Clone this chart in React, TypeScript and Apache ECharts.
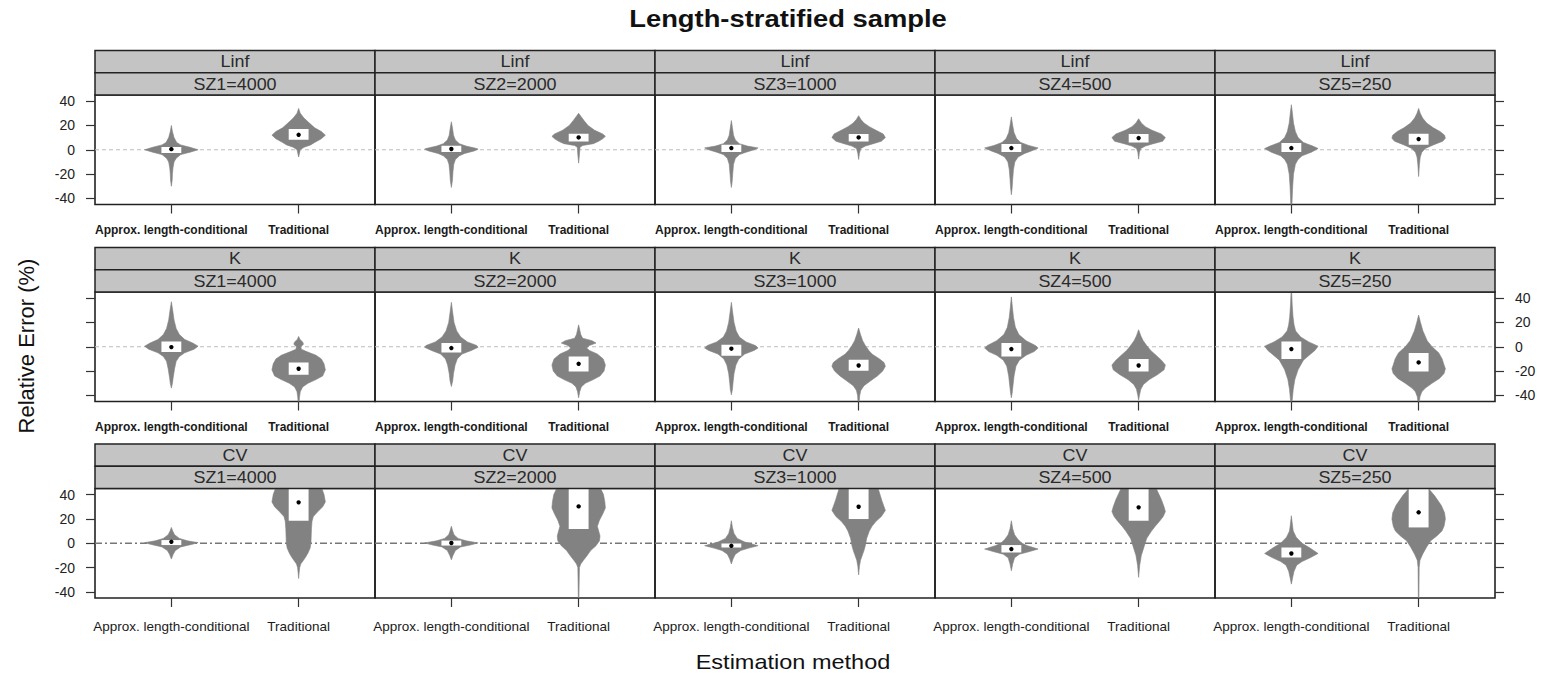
import React, { useEffect, useRef } from "react";
import * as echarts from "echarts";

const PARAMS = ["Linf", "K", "CV"];
const SIZES = ["SZ1=4000", "SZ2=2000", "SZ3=1000", "SZ4=500", "SZ5=250"];
const METHODS = ["Approx. length-conditional", "Traditional"];
const Y_TICKS = [-40, -20, 0, 20, 40];
const X_TICKS = [1, 2];
const Y_MIN = -45;
const Y_MAX = 45;
const REF_VALUE = 0;

// violin outlines: [relative error %, relative density], one list per sample size SZ1..SZ5
const LINF_APPROX = [
  [[20, 0], [15, 0.04], [10, 0.1], [6, 0.2], [4, 0.35], [2, 0.7], [0, 1], [-2, 0.7], [-4, 0.35], [-7, 0.18], [-10, 0.1], [-15, 0.06], [-20, 0.04], [-25, 0.03], [-30, 0]],
  [[23, 0], [18, 0.04], [12, 0.08], [8, 0.15], [5, 0.3], [3, 0.55], [1, 0.95], [0.5, 1], [-1, 0.85], [-3, 0.5], [-5, 0.3], [-8, 0.15], [-12, 0.09], [-18, 0.06], [-25, 0.04], [-31, 0]],
  [[24, 0], [18, 0.04], [12, 0.08], [8, 0.15], [5, 0.3], [3, 0.6], [1.5, 1], [0, 0.85], [-2, 0.55], [-4, 0.3], [-7, 0.15], [-12, 0.08], [-20, 0.05], [-26, 0.03], [-31, 0]],
  [[27, 0], [20, 0.05], [14, 0.1], [9, 0.2], [6, 0.35], [3.5, 0.65], [1.5, 1], [-1, 0.75], [-3, 0.5], [-6, 0.25], [-10, 0.13], [-16, 0.08], [-24, 0.05], [-31, 0.03], [-37, 0]],
  [[37, 0], [30, 0.04], [22, 0.08], [15, 0.15], [10, 0.25], [6, 0.45], [3, 0.8], [1, 1], [-2, 0.75], [-5, 0.4], [-8, 0.25], [-12, 0.15], [-20, 0.08], [-30, 0.05], [-40, 0.03], [-46, 0.02]],
];
const LINF_TRAD = [
  [[34, 0], [30, 0.06], [26, 0.2], [22, 0.4], [18, 0.6], [15, 0.85], [12, 1], [9, 0.85], [6, 0.6], [4, 0.45], [2, 0.2], [0, 0.06], [-3, 0.03], [-6, 0]],
  [[30, 0], [27, 0.1], [24, 0.2], [20, 0.35], [16, 0.6], [13, 0.9], [11, 1], [9, 0.9], [7, 0.75], [5, 0.55], [3.5, 0.15], [2, 0.05], [-4, 0.03], [-11, 0]],
  [[28, 0], [25, 0.08], [22, 0.2], [19, 0.4], [16, 0.65], [13, 0.92], [10, 1], [7, 0.85], [5, 0.55], [3, 0.25], [1, 0.08], [-3, 0.03], [-8, 0]],
  [[25.5, 0], [22, 0.1], [19, 0.25], [16, 0.5], [13, 0.85], [10, 1], [7, 0.9], [5, 0.55], [3, 0.25], [1, 0.08], [-2, 0.03], [-7.7, 0]],
  [[34, 0], [30, 0.06], [26, 0.15], [22, 0.3], [18, 0.55], [15, 0.8], [12, 0.97], [9.5, 1], [7, 0.9], [4, 0.55], [1, 0.25], [-2, 0.12], [-6, 0.06], [-12, 0.03], [-22, 0]],
];
const K_APPROX = [
  [[37, 0], [30, 0.05], [22, 0.1], [15, 0.18], [10, 0.3], [6, 0.5], [3, 0.8], [0.5, 1], [-2, 0.85], [-5, 0.5], [-8, 0.3], [-12, 0.18], [-18, 0.12], [-25, 0.07], [-30, 0.04], [-34, 0]],
  [[36.5, 0], [28, 0.05], [20, 0.1], [13, 0.2], [8, 0.35], [4, 0.6], [1, 0.95], [-0.5, 1], [-3, 0.75], [-6, 0.4], [-10, 0.22], [-15, 0.14], [-22, 0.08], [-28, 0.05], [-32.7, 0]],
  [[36.5, 0], [28, 0.05], [20, 0.1], [13, 0.18], [8, 0.3], [4, 0.55], [1, 0.9], [-1, 1], [-3, 0.85], [-6, 0.5], [-10, 0.28], [-15, 0.17], [-22, 0.1], [-30, 0.06], [-35, 0.04], [-39.5, 0]],
  [[41, 0], [32, 0.04], [24, 0.08], [16, 0.15], [10, 0.28], [5, 0.55], [1, 0.9], [-1, 1], [-4, 0.85], [-7, 0.55], [-11, 0.3], [-16, 0.17], [-24, 0.1], [-32, 0.06], [-38, 0.03], [-42, 0]],
  [[46, 0.01], [35, 0.03], [25, 0.06], [18, 0.1], [13, 0.16], [8, 0.35], [4, 0.65], [0.5, 1], [-3, 0.88], [-6, 0.72], [-11, 0.45], [-19, 0.25], [-27, 0.13], [-35, 0.07], [-42, 0.04], [-46, 0.02]],
];
const K_TRAD = [
  [[8.5, 0], [6, 0.05], [4, 0.15], [2, 0.18], [0, 0.08], [-2, 0.1], [-4, 0.3], [-7, 0.65], [-10, 0.85], [-14, 0.95], [-19, 1], [-24, 0.9], [-27, 0.65], [-30, 0.35], [-33, 0.15], [-37, 0.06], [-42, 0.03], [-46, 0.02]],
  [[18, 0], [14, 0.04], [10, 0.08], [7, 0.15], [5, 0.5], [3, 0.65], [1, 0.4], [-1, 0.3], [-3, 0.4], [-6, 0.7], [-10, 0.92], [-15, 1], [-20, 0.95], [-24, 0.8], [-27, 0.55], [-30, 0.25], [-33, 0.1], [-37, 0.04], [-42, 0]],
  [[15.4, 0], [10, 0.07], [5, 0.15], [1, 0.25], [-3, 0.38], [-6, 0.5], [-10, 0.78], [-13, 0.95], [-16, 1], [-20, 0.9], [-24, 0.7], [-28, 0.45], [-32, 0.2], [-36, 0.08], [-40, 0.04], [-46, 0.02]],
  [[14, 0], [9, 0.08], [5, 0.17], [1, 0.3], [-3, 0.45], [-7, 0.65], [-11, 0.85], [-15, 1], [-19, 0.95], [-23, 0.7], [-27, 0.4], [-31, 0.18], [-35, 0.08], [-40, 0.03], [-44, 0]],
  [[26, 0], [20, 0.07], [13, 0.16], [5, 0.32], [0, 0.5], [-5, 0.75], [-10, 0.88], [-15, 0.95], [-18, 1], [-22, 0.95], [-26, 0.78], [-30, 0.5], [-34, 0.25], [-37, 0.12], [-41, 0.05], [-46, 0.02]],
];
const CV_APPROX = [
  [[13, 0], [10, 0.05], [7, 0.12], [4, 0.3], [2, 0.6], [0.5, 1], [-1, 0.75], [-3, 0.35], [-6, 0.15], [-9, 0.07], [-13, 0]],
  [[14, 0], [10, 0.05], [7, 0.1], [4, 0.25], [2, 0.55], [0.3, 1], [-1.5, 0.7], [-3, 0.35], [-6, 0.15], [-10, 0.06], [-13.6, 0]],
  [[18.5, 0], [13, 0.04], [8, 0.1], [4, 0.22], [1, 0.5], [-2, 1], [-4, 0.65], [-6, 0.35], [-9, 0.15], [-13, 0.06], [-17, 0]],
  [[18.5, 0], [12, 0.05], [7, 0.12], [3, 0.25], [0, 0.4], [-2, 0.6], [-4.8, 1], [-7, 0.65], [-9, 0.3], [-12, 0.12], [-17, 0.05], [-22.6, 0]],
  [[22.6, 0], [15, 0.04], [10, 0.07], [5, 0.18], [0, 0.4], [-4, 0.7], [-8.4, 1], [-12, 0.7], [-15, 0.4], [-18, 0.2], [-23, 0.1], [-28, 0.05], [-33.6, 0]],
];
const CV_TRAD = [
  [[50, 0.75], [45, 0.87], [40, 0.95], [34, 1], [30, 0.9], [26, 0.72], [22, 0.55], [18, 0.5], [12, 0.48], [6, 0.47], [0, 0.46], [-4, 0.43], [-8, 0.35], [-11, 0.27], [-14, 0.18], [-17, 0.08], [-20, 0.04], [-24, 0.02], [-29, 0]],
  [[52, 0.5], [46, 0.8], [40, 0.93], [34, 0.98], [29, 1], [24, 0.9], [19, 0.78], [14, 0.7], [10, 0.75], [6, 0.8], [2, 0.78], [-2, 0.65], [-6, 0.45], [-10, 0.32], [-14, 0.18], [-17, 0.08], [-20, 0.03], [-32, 0.02], [-46, 0.01]],
  [[52, 0.55], [45, 0.73], [35, 0.87], [27, 1], [22, 0.85], [18, 0.65], [14, 0.5], [10, 0.4], [4, 0.3], [-2, 0.25], [-6, 0.2], [-9, 0.15], [-14, 0.07], [-19, 0.03], [-26, 0]],
  [[52, 0.5], [44, 0.68], [36, 0.85], [30, 0.95], [26, 1], [22, 0.92], [18, 0.78], [14, 0.62], [10, 0.48], [4, 0.3], [-3, 0.2], [-10, 0.1], [-18, 0.04], [-28, 0]],
  [[52, 0.2], [45, 0.37], [39, 0.6], [31, 0.85], [25, 0.97], [20, 1], [14, 0.95], [10, 0.87], [6, 0.68], [2, 0.45], [-3, 0.3], [-9, 0.15], [-14, 0.05], [-20, 0.02], [-46, 0.01]],
];

// box: [lower quartile, median, upper quartile]
const LINF_APPROX_BOX = [[-2.7, 0.5, 2.2], [-1.9, 0.6, 3.3], [-1.9, 1.4, 4.1], [-1.9, 1.4, 4.7], [-1.9, 1.4, 5.5]];
const LINF_TRAD_BOX = [[8.2, 12.3, 17], [6.8, 10.1, 13.2], [6.8, 10.1, 12.9], [6.0, 9.6, 12.9], [4.1, 8.8, 13.2]];
const K_APPROX_BOX = [[-4.4, -0.3, 4.4], [-4.7, -1.1, 3], [-7.4, -1.6, 1.6], [-8, -1.9, 3], [-10.1, -1.9, 4.4]];
const K_TRAD_BOX = [[-23, -18.1, -12.9], [-20.3, -14, -8], [-19.8, -15.4, -10.7], [-20.3, -15.4, -10.1], [-20.3, -12.9, -5.2]];
const CV_APPROX_BOX = [[-1.5, 1.2, 2.6], [-1.9, 0.2, 2.2], [-3.5, -2.1, -0.2], [-7.6, -4.8, -1.5], [-11.7, -8.4, -3.5]];
const CV_TRAD_BOX = [[18.5, 33.6, 52], [11.7, 30.3, 50], [19.9, 30, 50], [18.5, 29.5, 50], [13, 25.4, 55]];

const PROFILES = [
  [LINF_APPROX, LINF_TRAD],
  [K_APPROX, K_TRAD],
  [CV_APPROX, CV_TRAD],
];
const BOXES = [
  [LINF_APPROX_BOX, LINF_TRAD_BOX],
  [K_APPROX_BOX, K_TRAD_BOX],
  [CV_APPROX_BOX, CV_TRAD_BOX],
];

// ---- layout / style ----
const FONT = "'Liberation Sans', Arial, Helvetica, sans-serif";
const PANEL_LEFT = 95;
const PANEL_W = 280;
const PLOT_TOP = [95, 292, 488.5];
const PLOT_H = 109.5;
const STRIP_H = 22.2;
const VIOLIN_HALF = 0.21;
const BOX_HALF = 0.078;
const VIOLIN_FILL = "#828282";
const STRIP_FILL = "#c4c4c4";
const BORDER = "#222";

function clipProfile(p: number[][], lo: number, hi: number): number[][] {
  const out: number[][] = [];
  for (let i = 0; i < p.length; i++) {
    const [v, d] = p[i];
    if (i > 0) {
      const [pv, pd] = p[i - 1];
      for (const b of [hi, lo]) {
        if ((pv - b) * (v - b) < 0) {
          const t = (b - pv) / (v - pv);
          out.push([b, pd + t * (d - pd)]);
        }
      }
    }
    if (v >= lo && v <= hi) out.push([v, d]);
  }
  return out;
}

function buildOption() {
  const grids: any[] = [];
  const xAxes: any[] = [];
  const yAxes: any[] = [];
  const series: any[] = [];
  const graphics: any[] = [];

  PARAMS.forEach((param, r) => {
    SIZES.forEach((size, c) => {
      const idx = r * SIZES.length + c;
      const left = PANEL_LEFT + c * PANEL_W;
      const top = PLOT_TOP[r];
      grids.push({
        left,
        top,
        width: PANEL_W,
        height: PLOT_H,
        show: true,
        borderColor: BORDER,
        borderWidth: 1.6,
        backgroundColor: "transparent",
        containLabel: false,
      });
      const bold = r < 2;
      xAxes.push({
        gridIndex: idx,
        type: "value",
        position: "bottom",
        min: 0.4,
        max: 2.6,
        axisLine: { show: false, onZero: false },
        splitLine: { show: false },
        axisTick: {
          show: true,
          customValues: X_TICKS,
          length: 9,
          lineStyle: { color: "#333", width: 1.2 },
        },
        axisLabel: {
          show: true,
          customValues: X_TICKS,
          formatter: (v: number) => METHODS[Math.round(v) - 1] ?? "",
          margin: r === 2 ? 21 : 19,
          fontSize: bold ? 12 : 13.5,
          fontWeight: bold ? "bold" : "normal",
          color: "#1a1a1a",
          fontFamily: FONT,
        },
      });
      const isLeft = c === 0;
      const isRight = c === SIZES.length - 1;
      yAxes.push({
        gridIndex: idx,
        type: "value",
        min: Y_MIN,
        max: Y_MAX,
        position: isRight ? "right" : "left",
        axisLine: { show: false, onZero: false },
        splitLine: { show: false },
        axisTick: {
          show: isLeft || isRight,
          customValues: Y_TICKS,
          length: 9,
          lineStyle: { color: "#333", width: 1.2 },
        },
        axisLabel: {
          show: (isLeft && r !== 1) || (isRight && r === 1),
          customValues: Y_TICKS,
          margin: 20,
          fontSize: 14,
          color: "#222",
          fontFamily: FONT,
        },
      });

      const refStyle =
        r === 2
          ? { stroke: "#777", lineWidth: 1.5, lineDash: [7, 3, 2, 3] }
          : { stroke: "#bdbdbd", lineWidth: 1, lineDash: [4, 3] };

      series.push({
        type: "custom",
        xAxisIndex: idx,
        yAxisIndex: idx,
        silent: true,
        clip: true,
        data: METHODS.map((_, m) => [m + 1, ...BOXES[r][m][c]]),
        renderItem: (params: any, api: any) => {
          const m = params.dataIndex;
          const xc = api.value(0);
          const q1 = api.value(1);
          const med = api.value(2);
          const q3 = api.value(3);
          const prof = clipProfile(PROFILES[r][m][c], Y_MIN, Y_MAX);
          const right = prof.map(([v, d]) => api.coord([xc + d * VIOLIN_HALF, v]));
          const leftPts = prof
            .slice()
            .reverse()
            .map(([v, d]) => api.coord([xc - d * VIOLIN_HALF, v]));
          const tl = api.coord([xc - BOX_HALF, Math.min(q3, Y_MAX)]);
          const br = api.coord([xc + BOX_HALF, Math.max(q1, Y_MIN)]);
          const mc = api.coord([xc, med]);
          const children: any[] = [];
          if (m === 0) {
            const cs = params.coordSys;
            const yRef = api.coord([1, REF_VALUE])[1];
            children.push({
              type: "line",
              shape: { x1: cs.x, y1: yRef, x2: cs.x + cs.width, y2: yRef },
              style: { ...refStyle, fill: null },
            });
          }
          children.push(
            {
              type: "polygon",
              shape: { points: right.concat(leftPts) },
              style: { fill: VIOLIN_FILL, stroke: VIOLIN_FILL, lineWidth: 0.6 },
            },
            {
              type: "rect",
              shape: { x: tl[0], y: tl[1], width: br[0] - tl[0], height: br[1] - tl[1] },
              style: { fill: "#ffffff" },
            },
            {
              type: "circle",
              shape: { cx: mc[0], cy: mc[1], r: 2.2 },
              style: { fill: "#000000" },
            }
          );
          return { type: "group", children };
        },
      });

      // strips
      const s1 = top - 2 * STRIP_H;
      const s2 = top - STRIP_H;
      [
        [s1, param],
        [s2, size],
      ].forEach(([sy, label]) => {
        graphics.push({
          type: "rect",
          shape: { x: left, y: sy as number, width: PANEL_W, height: STRIP_H },
          style: { fill: STRIP_FILL, stroke: BORDER, lineWidth: 1.5 },
          z: 10,
        });
        graphics.push({
          type: "text",
          x: left + PANEL_W / 2,
          y: (sy as number) + STRIP_H / 2 + 0.5,
          scaleX: 1.12,
          style: {
            text: label as string,
            fontSize: 16,
            fontFamily: FONT,
            fill: "#2a2a2a",
            align: "center",
            verticalAlign: "middle",
            textAlign: "center",
            textVerticalAlign: "middle",
          },
          z: 11,
        });
      });
    });
  });

  graphics.push(
    {
      type: "text",
      x: 788,
      y: 19,
      scaleX: 1.14,
      style: {
        text: "Length-stratified sample",
        fontSize: 24,
        fontWeight: "bold",
        fontFamily: FONT,
        fill: "#111",
        align: "center",
        verticalAlign: "middle",
        textAlign: "center",
        textVerticalAlign: "middle",
      },
      z: 11,
    },
    {
      type: "text",
      x: 793,
      y: 662,
      scaleX: 1.12,
      style: {
        text: "Estimation method",
        fontSize: 21,
        fontFamily: FONT,
        fill: "#111",
        align: "center",
        verticalAlign: "middle",
        textAlign: "center",
        textVerticalAlign: "middle",
      },
      z: 11,
    },
    {
      type: "text",
      x: 26,
      y: 346,
      rotation: Math.PI / 2,
      style: {
        text: "Relative Error (%)",
        fontSize: 22,
        fontFamily: FONT,
        fill: "#111",
        align: "center",
        verticalAlign: "middle",
        textAlign: "center",
        textVerticalAlign: "middle",
      },
      z: 11,
    }
  );

  return {
    animation: false,
    backgroundColor: "#ffffff",
    textStyle: { fontFamily: FONT },
    grid: grids,
    xAxis: xAxes,
    yAxis: yAxes,
    series,
    graphic: { elements: graphics },
  };
}

export default function App() {
  const ref = useRef<HTMLDivElement>(null);
  useEffect(() => {
    if (!ref.current) return;
    const chart = echarts.init(ref.current, null, { renderer: "svg" });
    chart.setOption(buildOption() as any);
    return () => chart.dispose();
  }, []);
  return (
    <div
      ref={ref}
      style={{ position: "fixed", left: 0, top: 0, width: 1542, height: 673, background: "#fff" }}
    />
  );
}
